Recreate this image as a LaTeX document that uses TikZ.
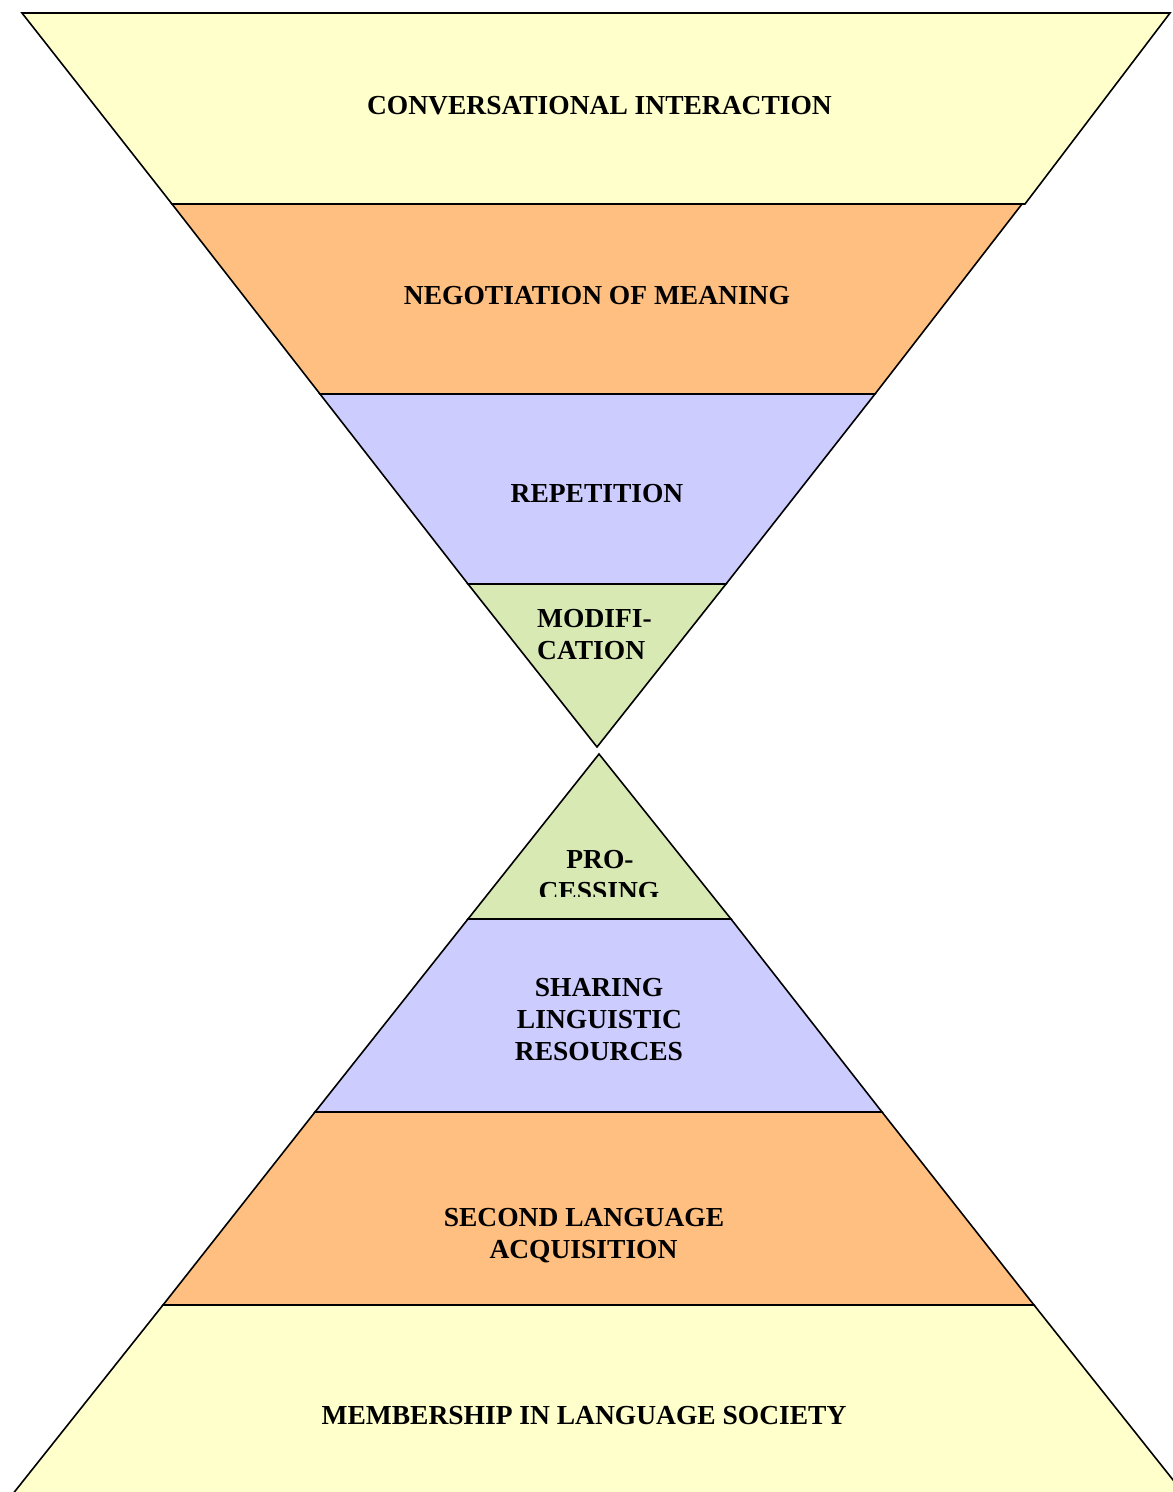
\documentclass[tikz,border=0pt]{standalone}
\usepackage{fontspec}
\setmainfont{Liberation Serif}
\definecolor{cyellow}{HTML}{FFFFCC}
\definecolor{corange}{HTML}{FFBF80}
\definecolor{cblue}{HTML}{CCCCFF}
\definecolor{cgreen}{HTML}{D8E9B4}
\begin{document}
\begin{tikzpicture}[x=1pt,y=-1pt,
  band/.style={draw=black,line width=1.6pt,line join=miter},
  lbl/.style={font=\fontsize{27.5}{32}\selectfont\bfseries,inner sep=0pt,anchor=base}]
\useasboundingbox (0,0) rectangle (1173,1492);
\clip (0,0) rectangle (1173,1492);
\fill[white] (0,0) rectangle (1173,1492);
% upper funnel
\filldraw[band,fill=cyellow] (22,13) -- (1170,13) -- (1025,204) -- (172,204) -- cycle;
\filldraw[band,fill=corange] (172,204) -- (1022,204) -- (875,394) -- (320,394) -- cycle;
\filldraw[band,fill=cblue] (320,394) -- (875,394) -- (726,584) -- (468,584) -- cycle;
\filldraw[band,fill=cgreen] (468,584) -- (726,584) -- (597,747) -- cycle;
% lower pyramid
\filldraw[band,fill=cgreen] (599,754) -- (731,919) -- (468,919) -- cycle;
\filldraw[band,fill=cblue] (468,919) -- (731,919) -- (882,1112) -- (315,1112) -- cycle;
\filldraw[band,fill=corange] (315,1112) -- (882,1112) -- (1034,1305) -- (163,1305) -- cycle;
\filldraw[band,fill=cyellow] (163,1305) -- (1034,1305) -- (1189,1500) -- (8,1500) -- cycle;
% labels
\node[lbl] (conv) at (599.5,114) {CONVERSATIONAL INTERACTION};
\node[lbl] (nego) at (597,304) {NEGOTIATION OF MEANING};
\node[lbl] (rep) at (597,502) {REPETITION};
\node[lbl,anchor=base west] (mod1) at (537,627) {MODIFI-};
\node[lbl,anchor=base west] (mod2) at (537,659) {CATION};
\begin{scope}
  \clip (400,800) rectangle (800,896.5);
  \node[lbl] (pro1) at (600,868) {PRO-};
  \node[lbl] (pro2) at (599,900) {CESSING};
\end{scope}
\node[lbl] (sh1) at (599,996) {SHARING};
\node[lbl] (sh2) at (599.5,1028) {LINGUISTIC};
\node[lbl] (sh3) at (599,1060) {RESOURCES};
\node[lbl] (sla1) at (584,1226) {SECOND LANGUAGE};
\node[lbl] (sla2) at (583.5,1258) {ACQUISITION};
\node[lbl] (mem) at (584,1424) {MEMBERSHIP IN LANGUAGE SOCIETY};
\end{tikzpicture}
\end{document}
